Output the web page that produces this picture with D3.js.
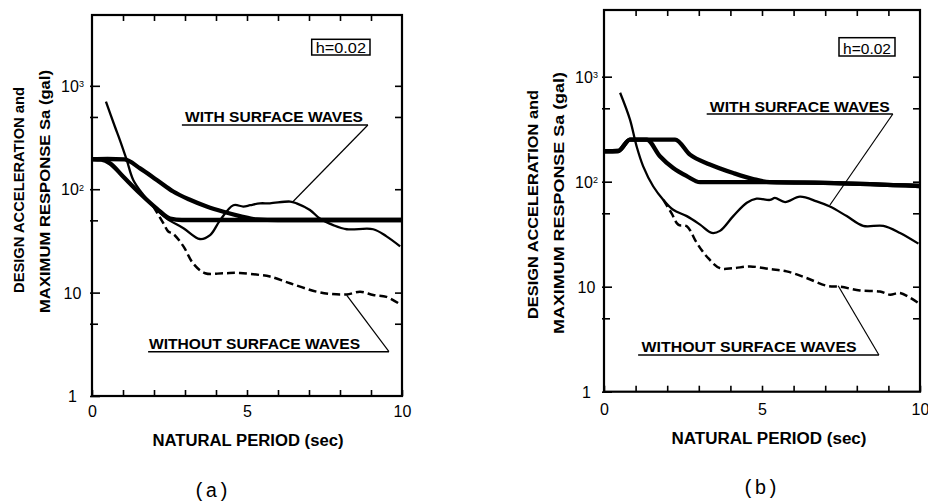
<!DOCTYPE html>
<html><head><meta charset="utf-8">
<script src="https://cdn.jsdelivr.net/npm/d3@7"></script>
<style>body{margin:0;background:#fff} svg{display:block}</style>
</head><body>
<svg id="chart" width="928" height="503"></svg>
<script>
// ---------- data ----------
const periodTicks = [0,1,2,3,4,5,6,7,8,9,10];
const periodLabels = [0,5,10];
const accelTicks = [1,5,10,50,100,500,1000];
const accelLabels = [1,10,100,1000];
const accelExponents = {1:"", 10:"", 100:"2", 1000:"3"};

// Panel (a)
const aDesign1T = [0, 0.5, 1.05, 1.55, 2.09, 2.62, 3.16, 3.7, 4.24, 4.77, 5.31, 6, 10];
const aDesign1V = [195, 196, 194, 159, 123, 95, 79, 68, 60.5, 55, 51, 50.4, 50.4];
const aDesign2T = [0, 0.3, 0.58, 1.01, 1.55, 2.09, 2.52, 2.9, 10];
const aDesign2V = [195, 193, 178, 132, 91, 65, 52, 50.4, 50.4];
const aWithT = [0.45, 0.74, 0.9, 1.12, 1.33, 1.66, 1.98, 2.41, 2.95, 3.48, 3.81, 4.13, 4.56, 4.88, 5.1, 5.42, 5.74, 6.39, 6.6, 7.03, 7.35, 7.78, 8.22, 9.07, 9.5, 9.94];
const aWithV = [702, 402, 299, 192, 123, 88, 68, 52, 42, 33, 36, 50, 70, 68, 70, 73, 73, 76, 73, 63, 52, 45, 41, 41, 35, 28];
const aWithoutT = [1.98, 2.3, 2.46, 2.62, 2.95, 3.27, 3.65, 4.24, 4.77, 5.42, 5.74, 6.39, 7.25, 7.7, 8.22, 8.65, 9.07, 9.5, 9.88];
const aWithoutV = [68, 47, 39, 37, 28, 19, 15.4, 15.4, 15.5, 14.8, 14.3, 12.3, 10.2, 9.7, 9.6, 10.2, 9.5, 9.1, 7.9];

// Panel (b)
const bDesign1T = [0, 0.45, 0.82, 1.4, 2.25, 2.72, 3.35, 4.09, 4.72, 5.25, 7.3, 10];
const bDesign1V = [195, 196, 252, 252, 252, 181, 146, 121, 106, 99, 97, 91];
const bDesign2T = [0, 0.45, 0.82, 1.35, 1.77, 2.19, 2.62, 3.04, 5.25, 7.3, 10];
const bDesign2V = [195, 196, 252, 252, 175, 135, 113, 99, 99, 97, 91];
const bWithT = [0.51, 0.82, 1.03, 1.24, 1.56, 1.88, 2.19, 2.62, 3.04, 3.41, 3.67, 4.09, 4.52, 4.83, 5.25, 5.41, 5.73, 6.2, 6.73, 7.15, 7.68, 8.2, 8.84, 9.37, 9.95];
const bWithV = [703, 392, 218, 140, 90, 67, 54, 47, 39, 32.5, 34, 47, 63, 69, 67, 70, 64, 72, 65, 58, 47, 38, 38, 32.5, 25.7];
const bWithoutT = [1.88, 2.14, 2.35, 2.62, 2.94, 3.25, 3.67, 4.09, 4.62, 5.25, 5.78, 6.41, 7.05, 7.47, 8.1, 8.73, 9.05, 9.37, 9.95];
const bWithoutV = [67, 50, 39, 37.6, 26, 19.4, 15, 15, 15.6, 14.7, 14, 12.1, 10.2, 10, 9.2, 9.0, 8.4, 8.7, 7.0];

// text
const xTitle = "NATURAL PERIOD (sec)";
const yTitle1 = "DESIGN ACCELERATION and";
const yTitle2 = "MAXIMUM RESPONSE Sa (gal)";
const withLabel = "WITH SURFACE WAVES";
const withoutLabel = "WITHOUT SURFACE WAVES";
const dampingLabel = "h=0.02";

// ---------- layout ----------
const zip = (T, V) => T.map((t, i) => [t, V[i]]);
const panels = [
  { name: "(a)", l: 92, r: 402, t: 15, b: 396, yMax: Math.pow(10, 3.685),
    design1: zip(aDesign1T, aDesign1V), design2: zip(aDesign2T, aDesign2V),
    withS: zip(aWithT, aWithV), withoutS: zip(aWithoutT, aWithoutV),
    yLab1: {x: 18.5, y: 190, len: 206}, yLab2: {x: 45, y: 191.5, len: 243},
    yTickDx: -19.5, xLabY: 21,
    xTitle: {x: 248, y: 446, len: 191}, cap: {x: 211.5, y: 497},
    box: {x: 311.7, y: 39.3, w: 58.3, h: 15.7},
    withAnn: {t0: 2.9, t1: 8.9, v: 418, tx: 3.0, len: 178, tip: [6.48, 75.7], dy: -2.5},
    woAnn: {t0: 1.81, t1: 9.58, v: 2.68, tx: 1.84, len: 211, tip: [8.22, 9.4], dy: -2.3} },
  { name: "(b)", l: 604, r: 920, t: 10, b: 391.7, yMax: Math.pow(10, 3.635),
    design1: zip(bDesign1T, bDesign1V), design2: zip(bDesign2T, bDesign2V),
    withS: zip(bWithT, bWithV), withoutS: zip(bWithoutT, bWithoutV),
    yLab1: {x: 533, y: 204.5, len: 229}, yLab2: {x: 559, y: 203, len: 262},
    yTickDx: -17.5, xLabY: 23.5,
    xTitle: {x: 769, y: 444, len: 195}, cap: {x: 760.5, y: 494},
    box: {x: 839, y: 37.7, w: 56, h: 18.3},
    withAnn: {t0: 3.25, t1: 9.14, v: 441, tx: 3.35, len: 180, tip: [7.15, 60], dy: -2.3},
    woAnn: {t0: 1.08, t1: 8.7, v: 2.236, tx: 1.19, len: 215, tip: [7.41, 10.2], dy: -3.3} }
];

const FONT = "'Liberation Sans', Arial, sans-serif";
const svg = d3.select("#chart");
svg.append("rect").attr("width", 928).attr("height", 503).attr("fill", "#fff");

panels.forEach(p => {
  const x = d3.scaleLinear().domain([0, 10]).range([p.l, p.r]);
  const y = d3.scaleLog().domain([1, p.yMax]).range([p.b, p.t]);
  const g = svg.append("g");

  const line = d3.line().x(d => x(d[0])).y(d => y(d[1]));
  // design spectra (thick)
  [p.design1, p.design2].forEach(d => {
    g.append("path").datum(d).attr("fill", "none").attr("stroke", "#000")
      .attr("stroke-width", 4.3).attr("stroke-linejoin", "round")
      .attr("d", line.curve(d3.curveMonotoneX));
  });
  // response with surface waves
  g.append("path").datum(p.withS).attr("fill", "none").attr("stroke", "#000")
    .attr("stroke-width", 2.3).attr("d", line.curve(d3.curveCatmullRom.alpha(0.5)));
  // response without surface waves (dashed)
  g.append("path").datum(p.withoutS).attr("fill", "none").attr("stroke", "#000")
    .attr("stroke-width", 2.5).attr("stroke-dasharray", "8,4")
    .attr("d", line.curve(d3.curveCatmullRom.alpha(0.5)));

  // axes
  const styleAxis = sel => {
    sel.select(".domain").remove();
    sel.selectAll("line").attr("stroke", "#000").attr("stroke-width", 1.6);
    sel.attr("font-family", FONT).attr("font-size", 16);
  };
  const xb = g.append("g").attr("transform", `translate(0,${p.b})`)
    .call(d3.axisBottom(x).tickValues(periodTicks).tickSize(-6)
      .tickFormat(d => periodLabels.includes(d) ? d : ""));
  styleAxis(xb);
  xb.selectAll("text").attr("y", p.xLabY).attr("dy", 0).attr("fill", "#000");
  const xt = g.append("g").attr("transform", `translate(0,${p.t})`)
    .call(d3.axisTop(x).tickValues(periodTicks.slice(1, -1)).tickSize(-6).tickFormat(""));
  styleAxis(xt);

  const yl = g.append("g").attr("transform", `translate(${p.l},0)`)
    .call(d3.axisLeft(y).tickValues(accelTicks).tickSize(-8)
      .tickFormat(d => accelLabels.includes(d) ? (d >= 100 ? "10" : String(d)) : ""));
  styleAxis(yl);
  yl.selectAll(".tick line").attr("x2", d => accelLabels.includes(d) ? 8 : 6).attr("x1", -2);
  yl.selectAll("text").attr("x", p.yTickDx).attr("text-anchor", "middle").attr("dy", "0.36em").attr("fill", "#000")
    .each(function(d) {
      const e = accelExponents[d];
      if (e) d3.select(this).append("tspan").attr("dy", "-0.55em").attr("font-size", 9).text(e);
    });
  const yr = g.append("g").attr("transform", `translate(${p.r},0)`)
    .call(d3.axisRight(y).tickValues(accelTicks.slice(1)).tickSize(-7).tickFormat(""));
  styleAxis(yr);

  // frame
  g.append("rect").attr("x", p.l).attr("y", p.t).attr("width", p.r - p.l).attr("height", p.b - p.t)
    .attr("fill", "none").attr("stroke", "#000").attr("stroke-width", 2.2);

  // titles
  const yT = (lab, txt) => g.append("text")
    .attr("transform", `translate(${lab.x},${lab.y}) rotate(-90)`)
    .attr("text-anchor", "middle").attr("dy", "0.36em")
    .attr("font-family", FONT).attr("font-weight", "bold").attr("font-size", 15)
    .attr("textLength", lab.len).attr("lengthAdjust", "spacingAndGlyphs").text(txt);
  yT(p.yLab1, yTitle1);
  yT(p.yLab2, yTitle2);

  g.append("text").attr("x", p.xTitle.x).attr("y", p.xTitle.y).attr("text-anchor", "middle")
    .attr("font-family", FONT).attr("font-size", 16).attr("font-weight", "bold")
    .attr("textLength", p.xTitle.len).attr("lengthAdjust", "spacingAndGlyphs").text(xTitle);

  g.append("text").attr("x", p.cap.x).attr("y", p.cap.y).attr("text-anchor", "middle")
    .attr("font-family", "'Liberation Mono', 'Courier New', monospace").attr("font-size", 20)
    .text(p.name);

  // damping box
  g.append("rect").attr("x", p.box.x).attr("y", p.box.y).attr("width", p.box.w).attr("height", p.box.h)
    .attr("fill", "#fff").attr("stroke", "#000").attr("stroke-width", 1.5);
  g.append("text").attr("x", p.box.x + p.box.w / 2).attr("y", p.box.y + p.box.h - 2.2)
    .attr("text-anchor", "middle").attr("font-family", FONT).attr("font-size", 14)
    .attr("textLength", p.box.w - 8).attr("lengthAdjust", "spacingAndGlyphs").text(dampingLabel);

  // annotations
  const ann = (a, txt) => {
    const yu = y(a.v);
    g.append("text").attr("x", x(a.tx)).attr("y", yu + a.dy)
      .attr("font-family", FONT).attr("font-size", 15).attr("font-weight", "bold")
      .attr("textLength", a.len).attr("lengthAdjust", "spacingAndGlyphs").text(txt);
    g.append("line").attr("x1", x(a.t0)).attr("x2", x(a.t1)).attr("y1", yu).attr("y2", yu)
      .attr("stroke", "#000").attr("stroke-width", 1.5);
    g.append("line").attr("x1", x(a.t1)).attr("y1", yu).attr("x2", x(a.tip[0])).attr("y2", y(a.tip[1]))
      .attr("stroke", "#000").attr("stroke-width", 1.2);
  };
  ann(p.withAnn, withLabel);
  ann(p.woAnn, withoutLabel);
});
</script>
</body></html>
